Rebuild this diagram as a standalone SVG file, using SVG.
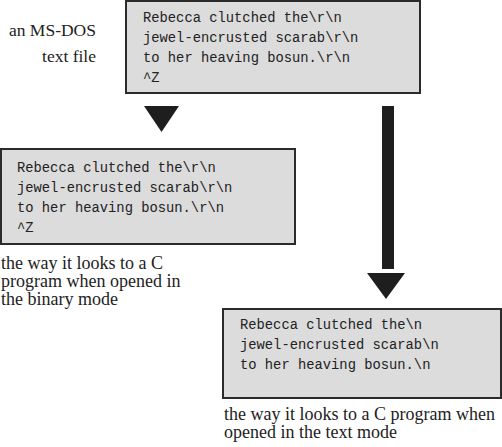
<svg xmlns="http://www.w3.org/2000/svg" width="502" height="447" viewBox="0 0 502 447">
<style>
.box{fill:#dcdcdc;stroke:#2b2b2b;stroke-width:2}
.mono{font-family:"Liberation Mono","Courier New",monospace;font-size:13.8px;fill:#222}
.lbl{font-family:"Liberation Serif","Times New Roman",serif;font-size:17.5px;fill:#222}
.cap{font-family:"Liberation Serif","Times New Roman",serif;font-size:18px;fill:#222}
.arr{fill:#1e1e1e}
</style>
<rect width="502" height="447" fill="#ffffff"/>
<g id="node-dos">
<rect class="box" x="126" y="1" width="294" height="92"/>
<text class="mono" x="143" y="21.5">Rebecca clutched the\r\n</text>
<text class="mono" x="143" y="41.5">jewel-encrusted scarab\r\n</text>
<text class="mono" x="143" y="61.5">to her heaving bosun.\r\n</text>
<text class="mono" x="143" y="81.5">^Z</text>
</g>
<g id="label-dos">
<text class="lbl" x="96" y="36" text-anchor="end">an MS-DOS</text>
<text class="lbl" x="96" y="61.5" text-anchor="end">text file</text>
</g>
<g id="node-binary">
<rect class="box" x="1" y="149" width="294" height="95"/>
<text class="mono" x="17" y="172">Rebecca clutched the\r\n</text>
<text class="mono" x="17" y="192">jewel-encrusted scarab\r\n</text>
<text class="mono" x="17" y="212">to her heaving bosun.\r\n</text>
<text class="mono" x="17" y="232">^Z</text>
<text class="cap" x="1" y="269">the way it looks to a C</text>
<text class="cap" x="1" y="287">program when opened in</text>
<text class="cap" x="1" y="305">the binary mode</text>
</g>
<g id="node-text">
<rect class="box" x="223" y="309" width="278" height="89"/>
<text class="mono" x="240" y="328.5">Rebecca clutched the\n</text>
<text class="mono" x="240" y="348.5">jewel-encrusted scarab\n</text>
<text class="mono" x="240" y="368.5">to her heaving bosun.\n</text>
<text class="cap" x="224" y="420">the way it looks to a C program when</text>
<text class="cap" x="224" y="438">opened in the text mode</text>
</g>
<g id="connectors">
<polygon class="arr" points="144,106 179,106 161.5,132"/>
<rect class="arr" x="382" y="106" width="12" height="163"/>
<polygon class="arr" points="367,273 405,273 386,299"/>
</g>
</svg>
